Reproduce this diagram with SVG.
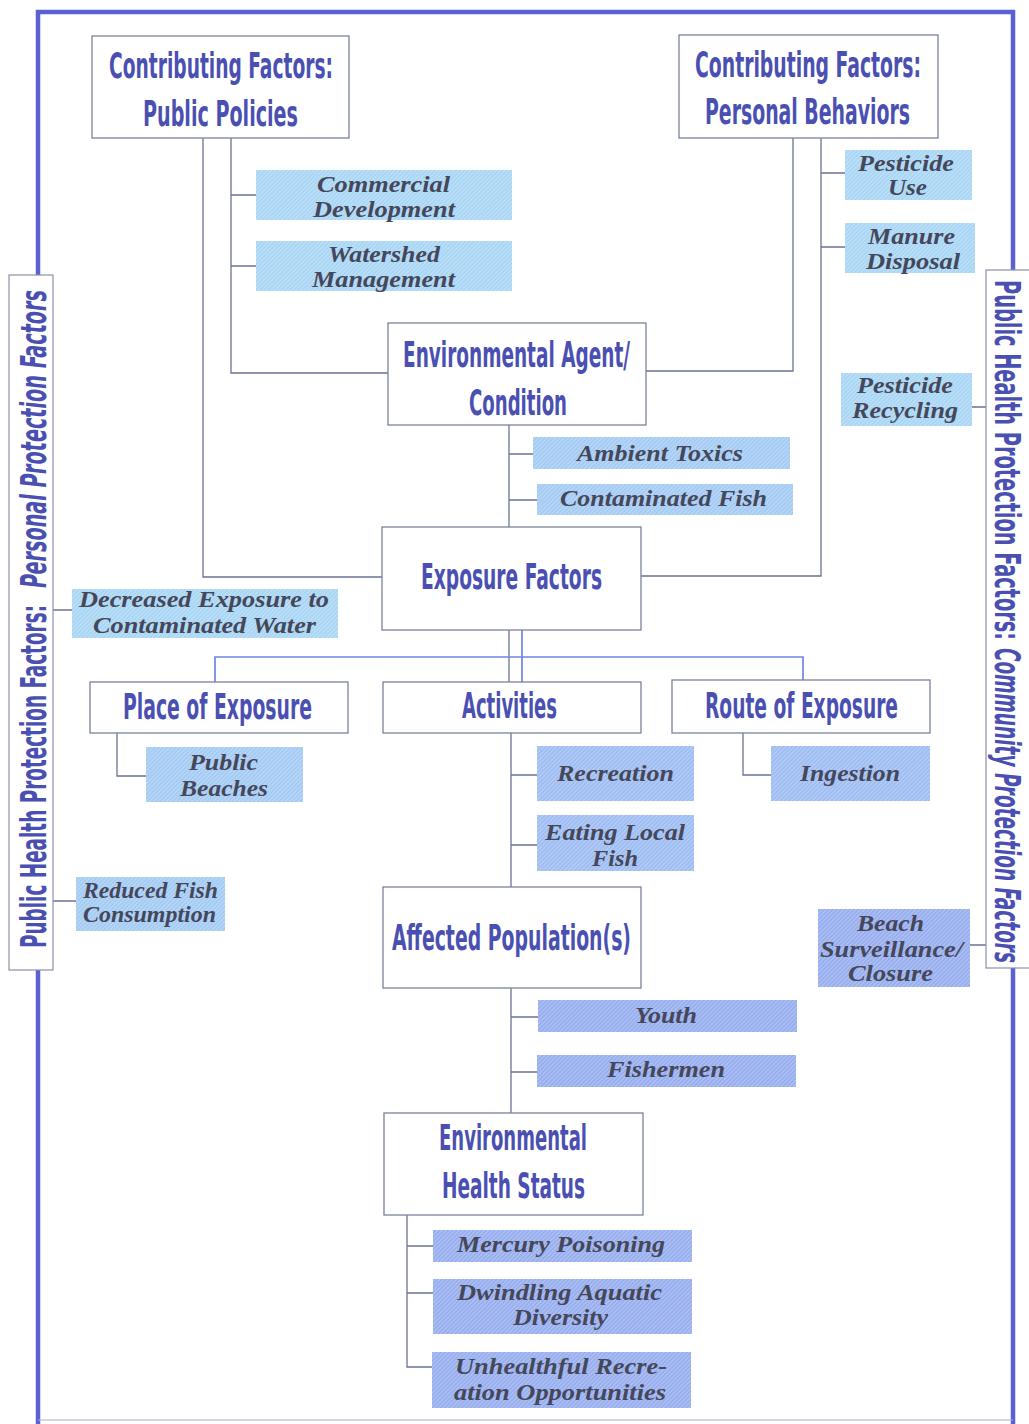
<svg xmlns="http://www.w3.org/2000/svg" width="1029" height="1424" viewBox="0 0 1029 1424">
<defs>
<pattern id="hatch" width="3" height="3" patternUnits="userSpaceOnUse" patternTransform="rotate(45)"><line x1="0.5" y1="0" x2="0.5" y2="3" stroke="#ffffff" stroke-opacity="0.28" stroke-width="1"/></pattern>
<style>
.frame{fill:none;stroke:#5b60d4;stroke-width:4.5}
.box{fill:#ffffff;stroke:#7a819e;stroke-width:1.3}
.side{fill:#ffffff;stroke:#8a90aa;stroke-width:1.2}
.main{font-family:"Liberation Sans Narrow","DejaVu Sans Condensed","Roboto Condensed","Liberation Sans",sans-serif;font-stretch:condensed;font-weight:bold;font-size:35px;fill:#4a50b2}
.it{font-style:italic}
.sub{font-family:"Liberation Serif","DejaVu Serif",serif;font-weight:bold;font-style:italic;font-size:24px;fill:#45475a}
.hat{fill:url(#hatch)}
.c1{fill:#a9d6f5}.c2{fill:#a4cbf4}.c3{fill:#9ebdf2}.c4{fill:#97aeef}
.con{fill:none;stroke:#6b7394;stroke-width:1.3}
.conb{fill:none;stroke:#6f86e0;stroke-width:1.7}
</style>
</defs>
<rect width="1029" height="1424" fill="#ffffff"/>
<rect class="frame" x="38" y="12" width="975" height="1430"/>
<line x1="38" y1="1420" x2="1013" y2="1420" stroke="#aab0d0" stroke-width="1.2"/>

<g id="connectors">
<path class="con" d="M203,138 V577 H382"/>
<path class="con" d="M231,138 V373 H388"/>
<path class="con" d="M231,195 H256 M231,266 H256"/>
<path class="con" d="M793,137 V371 H646"/>
<path class="con" d="M821,137 V576 H641"/>
<path class="con" d="M821,173 H845 M821,247 H845"/>
<path class="con" d="M509,425 V527 M509,454 H533 M509,500 H537"/>
<path class="con" d="M509,630 V682"/>
<path class="conb" d="M522,630 V682 M215,682 V657 H803 V680"/>
<path class="con" d="M117,733 V776 H146"/>
<path class="con" d="M511,733 V887 M511,775 H537 M511,845 H537"/>
<path class="con" d="M743,733 V775 H771"/>
<path class="con" d="M511,988 V1113 M511,1017 H538 M511,1072 H537"/>
<path class="con" d="M407,1215 V1367 H432 M407,1246 H433 M407,1293 H433"/>
<path class="con" d="M53,610 H72 M53,901 H76"/>
<path class="con" d="M972,407 H986 M970,945 H986"/>
</g>

<g id="label-left">
<rect class="side" x="9" y="275" width="44" height="695"/>
<text class="main" transform="translate(46,948) rotate(-90)" textLength="343" lengthAdjust="spacingAndGlyphs">Public Health Protection Factors:</text>
<text class="main it" transform="translate(46,588) rotate(-90)" textLength="298" lengthAdjust="spacingAndGlyphs">Personal Protection Factors</text>
</g>
<g id="label-right">
<rect class="side" x="986" y="270" width="44" height="698"/>
<text class="main" transform="translate(995,280) rotate(90)" textLength="360" lengthAdjust="spacingAndGlyphs">Public Health Protection Factors:</text>
<text class="main it" transform="translate(995,648) rotate(90)" textLength="315" lengthAdjust="spacingAndGlyphs">Community Protection Factors</text>
</g>

<g id="public-policies">
<rect class="box" x="92" y="36" width="257" height="102"/>
<text class="main" x="109" y="78" textLength="224" lengthAdjust="spacingAndGlyphs">Contributing Factors:</text>
<text class="main" x="143" y="126" textLength="155" lengthAdjust="spacingAndGlyphs">Public Policies</text>
</g>
<g id="personal-behaviors">
<rect class="box" x="679" y="35" width="259" height="103"/>
<text class="main" x="695" y="77" textLength="226" lengthAdjust="spacingAndGlyphs">Contributing Factors:</text>
<text class="main" x="705" y="124" textLength="205" lengthAdjust="spacingAndGlyphs">Personal Behaviors</text>
</g>
<g id="env-agent">
<rect class="box" x="388" y="323" width="258" height="102"/>
<text class="main" x="403" y="367" textLength="227" lengthAdjust="spacingAndGlyphs">Environmental Agent/</text>
<text class="main" x="469" y="415" textLength="98" lengthAdjust="spacingAndGlyphs">Condition</text>
</g>
<g id="exposure-factors">
<rect class="box" x="382" y="527" width="259" height="103"/>
<text class="main" x="421" y="589" textLength="181" lengthAdjust="spacingAndGlyphs">Exposure Factors</text>
</g>
<g id="place-of-exposure">
<rect class="box" x="90" y="682" width="258" height="51"/>
<text class="main" x="123" y="719" textLength="189" lengthAdjust="spacingAndGlyphs">Place of Exposure</text>
</g>
<g id="activities">
<rect class="box" x="383" y="682" width="258" height="51"/>
<text class="main" x="462" y="718" textLength="95" lengthAdjust="spacingAndGlyphs">Activities</text>
</g>
<g id="route-of-exposure">
<rect class="box" x="672" y="680" width="258" height="53"/>
<text class="main" x="705" y="718" textLength="193" lengthAdjust="spacingAndGlyphs">Route of Exposure</text>
</g>
<g id="affected-population">
<rect class="box" x="383" y="887" width="258" height="101"/>
<text class="main" x="392" y="950" textLength="239" lengthAdjust="spacingAndGlyphs">Affected Population(s)</text>
</g>
<g id="env-health-status">
<rect class="box" x="384" y="1113" width="259" height="102"/>
<text class="main" x="439" y="1150" textLength="148" lengthAdjust="spacingAndGlyphs">Environmental</text>
<text class="main" x="442" y="1198" textLength="143" lengthAdjust="spacingAndGlyphs">Health Status</text>
</g>

<g id="commercial-development">
<rect class="c1" x="256" y="170" width="256" height="50"/><rect class="hat" x="256" y="170" width="256" height="50"/>
<text class="sub" x="317" y="192" textLength="133" lengthAdjust="spacingAndGlyphs">Commercial</text>
<text class="sub" x="313" y="217" textLength="142" lengthAdjust="spacingAndGlyphs">Development</text>
</g>
<g id="watershed-management">
<rect class="c1" x="256" y="241" width="256" height="50"/><rect class="hat" x="256" y="241" width="256" height="50"/>
<text class="sub" x="328" y="262" textLength="112" lengthAdjust="spacingAndGlyphs">Watershed</text>
<text class="sub" x="312" y="287" textLength="143" lengthAdjust="spacingAndGlyphs">Management</text>
</g>
<g id="pesticide-use">
<rect class="c1" x="845" y="150" width="127" height="50"/><rect class="hat" x="845" y="150" width="127" height="50"/>
<text class="sub" x="858" y="171" textLength="96" lengthAdjust="spacingAndGlyphs">Pesticide</text>
<text class="sub" x="888" y="195" textLength="39" lengthAdjust="spacingAndGlyphs">Use</text>
</g>
<g id="manure-disposal">
<rect class="c1" x="845" y="223" width="130" height="50"/><rect class="hat" x="845" y="223" width="130" height="50"/>
<text class="sub" x="868" y="244" textLength="87" lengthAdjust="spacingAndGlyphs">Manure</text>
<text class="sub" x="866" y="269" textLength="94" lengthAdjust="spacingAndGlyphs">Disposal</text>
</g>
<g id="pesticide-recycling">
<rect class="c1" x="841" y="373" width="131" height="53"/><rect class="hat" x="841" y="373" width="131" height="53"/>
<text class="sub" x="857" y="393" textLength="96" lengthAdjust="spacingAndGlyphs">Pesticide</text>
<text class="sub" x="852" y="418" textLength="106" lengthAdjust="spacingAndGlyphs">Recycling</text>
</g>
<g id="ambient-toxics">
<rect class="c2" x="533" y="437" width="257" height="32"/><rect class="hat" x="533" y="437" width="257" height="32"/>
<text class="sub" x="577" y="461" textLength="166" lengthAdjust="spacingAndGlyphs">Ambient Toxics</text>
</g>
<g id="contaminated-fish">
<rect class="c2" x="537" y="484" width="256" height="31"/><rect class="hat" x="537" y="484" width="256" height="31"/>
<text class="sub" x="560" y="506" textLength="207" lengthAdjust="spacingAndGlyphs">Contaminated Fish</text>
</g>
<g id="decreased-exposure">
<rect class="c1" x="72" y="589" width="266" height="49"/><rect class="hat" x="72" y="589" width="266" height="49"/>
<text class="sub" x="79" y="607" textLength="250" lengthAdjust="spacingAndGlyphs">Decreased Exposure to</text>
<text class="sub" x="93" y="633" textLength="223" lengthAdjust="spacingAndGlyphs">Contaminated Water</text>
</g>
<g id="public-beaches">
<rect class="c2" x="146" y="747" width="157" height="55"/><rect class="hat" x="146" y="747" width="157" height="55"/>
<text class="sub" x="189" y="770" textLength="69" lengthAdjust="spacingAndGlyphs">Public</text>
<text class="sub" x="180" y="796" textLength="88" lengthAdjust="spacingAndGlyphs">Beaches</text>
</g>
<g id="recreation">
<rect class="c3" x="537" y="746" width="157" height="55"/><rect class="hat" x="537" y="746" width="157" height="55"/>
<text class="sub" x="557" y="781" textLength="117" lengthAdjust="spacingAndGlyphs">Recreation</text>
</g>
<g id="ingestion">
<rect class="c3" x="771" y="746" width="159" height="55"/><rect class="hat" x="771" y="746" width="159" height="55"/>
<text class="sub" x="800" y="781" textLength="100" lengthAdjust="spacingAndGlyphs">Ingestion</text>
</g>
<g id="eating-local-fish">
<rect class="c3" x="537" y="815" width="157" height="56"/><rect class="hat" x="537" y="815" width="157" height="56"/>
<text class="sub" x="545" y="840" textLength="140" lengthAdjust="spacingAndGlyphs">Eating Local</text>
<text class="sub" x="592" y="866" textLength="46" lengthAdjust="spacingAndGlyphs">Fish</text>
</g>
<g id="reduced-fish-consumption">
<rect class="c2" x="76" y="877" width="149" height="54"/><rect class="hat" x="76" y="877" width="149" height="54"/>
<text class="sub" x="83" y="898" textLength="135" lengthAdjust="spacingAndGlyphs">Reduced Fish</text>
<text class="sub" x="83" y="922" textLength="133" lengthAdjust="spacingAndGlyphs">Consumption</text>
</g>
<g id="beach-surveillance">
<rect class="c4" x="818" y="909" width="152" height="78"/><rect class="hat" x="818" y="909" width="152" height="78"/>
<text class="sub" x="857" y="931" textLength="67" lengthAdjust="spacingAndGlyphs">Beach</text>
<text class="sub" x="820" y="957" textLength="143" lengthAdjust="spacingAndGlyphs">Surveillance/</text>
<text class="sub" x="848" y="981" textLength="85" lengthAdjust="spacingAndGlyphs">Closure</text>
</g>
<g id="youth">
<rect class="c4" x="538" y="1000" width="259" height="32"/><rect class="hat" x="538" y="1000" width="259" height="32"/>
<text class="sub" x="635" y="1023" textLength="62" lengthAdjust="spacingAndGlyphs">Youth</text>
</g>
<g id="fishermen">
<rect class="c4" x="537" y="1055" width="259" height="32"/><rect class="hat" x="537" y="1055" width="259" height="32"/>
<text class="sub" x="607" y="1077" textLength="118" lengthAdjust="spacingAndGlyphs">Fishermen</text>
</g>
<g id="mercury-poisoning">
<rect class="c4" x="433" y="1230" width="259" height="32"/><rect class="hat" x="433" y="1230" width="259" height="32"/>
<text class="sub" x="457" y="1252" textLength="208" lengthAdjust="spacingAndGlyphs">Mercury Poisoning</text>
</g>
<g id="dwindling-diversity">
<rect class="c4" x="433" y="1279" width="259" height="55"/><rect class="hat" x="433" y="1279" width="259" height="55"/>
<text class="sub" x="457" y="1300" textLength="205" lengthAdjust="spacingAndGlyphs">Dwindling Aquatic</text>
<text class="sub" x="513" y="1325" textLength="95" lengthAdjust="spacingAndGlyphs">Diversity</text>
</g>
<g id="unhealthful-recreation">
<rect class="c4" x="432" y="1352" width="259" height="56"/><rect class="hat" x="432" y="1352" width="259" height="56"/>
<text class="sub" x="455" y="1374" textLength="212" lengthAdjust="spacingAndGlyphs">Unhealthful Recre-</text>
<text class="sub" x="454" y="1400" textLength="212" lengthAdjust="spacingAndGlyphs">ation Opportunities</text>
</g>
</svg>
